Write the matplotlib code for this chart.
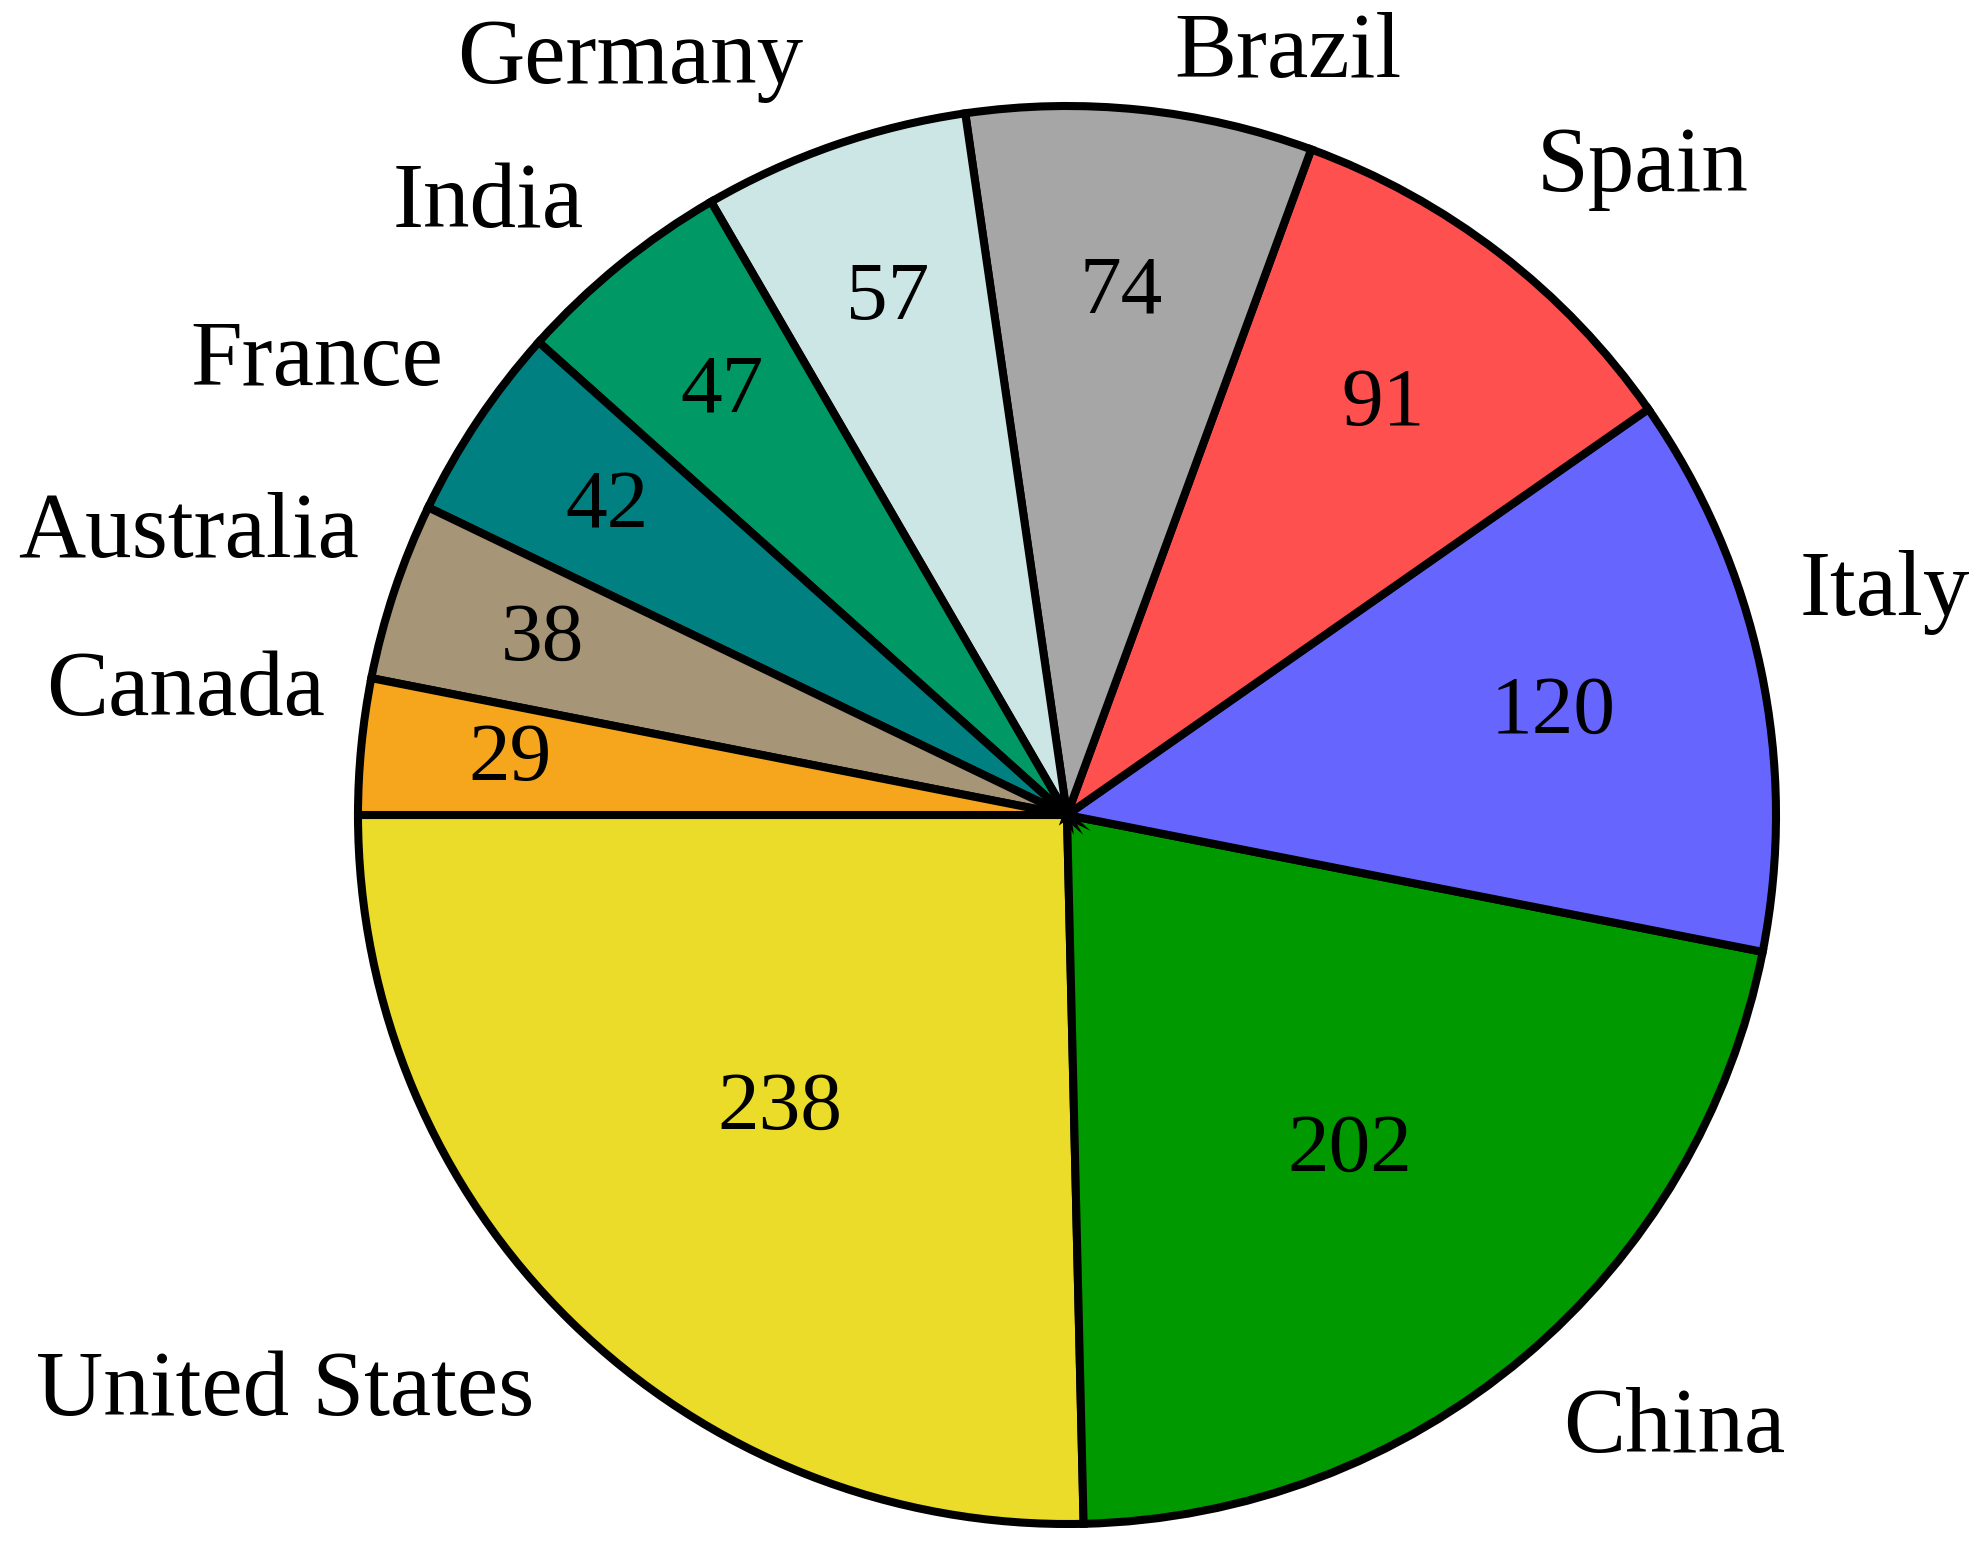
import matplotlib.pyplot as plt
import numpy as np

countries = ["United States", "China", "Italy", "Spain", "Brazil", "Germany",
             "India", "France", "Australia", "Canada"]
values = [238, 202, 120, 91, 74, 57, 47, 42, 38, 29]
colors = ["#ECDC2A", "#009900", "#6666FF", "#FF5050", "#A6A6A6", "#CCE5E5",
          "#009966", "#008080", "#A69576", "#F6A61D"]
# distance of each value label from the centre (fraction of radius)
value_dist = [0.58, 0.62, 0.70, 0.73, 0.74, 0.77, 0.77, 0.78, 0.78, 0.79]
# name label placement: distance and angle shift (deg) from the wedge middle
label_dist = [1.108, 1.114, 1.080, 1.127, 1.084, 1.127, 1.098, 1.087, 1.074, 1.061]
label_shift = [1.6, -1.2, 5.0, 1.6, -2.1, 0.1, -0.8, -2.2, -3.2, -3.8]

plt.rcParams['font.family'] = ['Liberation Serif', 'DejaVu Serif']

W, H, dpi = 1987, 1546, 100
fig = plt.figure(figsize=(W / dpi, H / dpi), dpi=dpi)
ax = fig.add_axes([0, 0, 1, 1])

wedges, texts, autotexts = ax.pie(
    values, labels=countries, colors=colors, startangle=180,
    counterclock=True, labeldistance=1.1,
    autopct=lambda p: "%d" % round(p * sum(values) / 100),
    wedgeprops=dict(edgecolor="black", linewidth=5.8),
    textprops=dict(fontsize=60))

for w, t, lab, d, ld, sh in zip(wedges, autotexts, texts, value_dist,
                                label_dist, label_shift):
    mid = (w.theta1 + w.theta2) / 2
    ang = np.deg2rad(mid)
    t.set_position((d * np.cos(ang), d * np.sin(ang)))
    la = np.deg2rad(mid + sh)
    lab.set_position((ld * np.cos(la), ld * np.sin(la)))
    lab.set_fontsize(67)

# pie centre and radius in pixels
cx, cy, r = 1067, 815, 709
ax.set_aspect('auto')
ax.set_xlim(-cx / r, (W - cx) / r)
ax.set_ylim(-(H - cy) / r, cy / r)
ax.axis('off')

fig.savefig("out.png", dpi=dpi)
